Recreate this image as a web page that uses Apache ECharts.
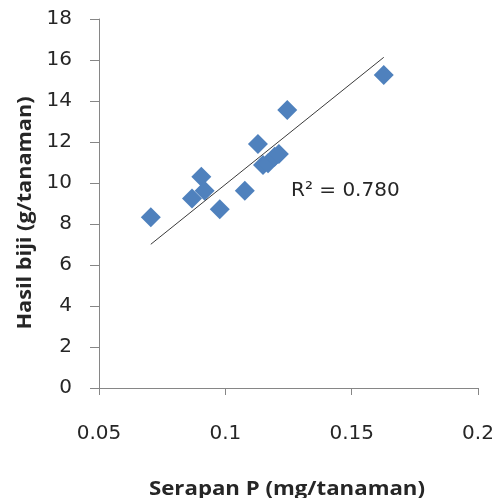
<!DOCTYPE html>
<html>
<head>
<meta charset="utf-8">
<script src="https://cdn.jsdelivr.net/npm/echarts@6/dist/echarts.min.js"></script>
<style>
  html, body { margin: 0; padding: 0; background: #fff; }
  #chart { width: 497px; height: 498px; }
</style>
</head>
<body>
<div id="chart"></div>
<script>
// Serapan P (mg/tanaman) vs Hasil biji (g/tanaman)
const serapanP = [0.0705, 0.0868, 0.0905, 0.0918, 0.0978, 0.1077, 0.1129, 0.1149, 0.1169, 0.1195, 0.1212, 0.1245, 0.1627];
const hasilBiji = [8.33, 9.25, 10.31, 9.62, 8.72, 9.62, 11.90, 10.88, 10.96, 11.28, 11.41, 13.56, 15.27];
// linear trend line end points
const trendX = [0.0705, 0.1627];
const trendY = [7.01, 16.13];
const xTicks = [0.05, 0.1, 0.15, 0.2];
const yTicks = [0, 2, 4, 6, 8, 10, 12, 14, 16, 18];
const r2Text = 'R² = 0.780';
const xTitle = 'Serapan P (mg/tanaman)';
const yTitle = 'Hasil biji (g/tanaman)';

const labelFont = '"DejaVu Sans", sans-serif';
const titleFont = '"Open Sans", sans-serif';
const axisColor = '#868686';
const textColor = '#262626';

// stretch a bold title horizontally to a given span
function stretchFor(text, size, span) {
  const ctx = document.createElement('canvas').getContext('2d');
  ctx.font = 'bold ' + size + 'px ' + titleFont;
  return span / ctx.measureText(text).width;
}

const chart = echarts.init(document.getElementById('chart'));
chart.setOption({
  animation: false,
  grid: { left: 99, right: 19, top: 19, bottom: 110, containLabel: false },
  xAxis: {
    type: 'value',
    min: xTicks[0], max: xTicks[xTicks.length - 1], interval: 0.05,
    axisLine: { show: true, lineStyle: { color: axisColor, width: 1 } },
    axisTick: { show: true, length: 7, lineStyle: { color: axisColor } },
    axisLabel: { fontFamily: labelFont, fontSize: 20, color: textColor, margin: 36,
      formatter: v => String(+v.toFixed(2)) },
    splitLine: { show: false }
  },
  yAxis: {
    type: 'value',
    min: yTicks[0], max: yTicks[yTicks.length - 1], interval: 2,
    axisLine: { show: true, lineStyle: { color: axisColor, width: 1 } },
    axisTick: { show: true, length: 9, lineStyle: { color: axisColor } },
    axisLabel: { fontFamily: labelFont, fontSize: 20, color: textColor, margin: 27 },
    splitLine: { show: false }
  },
  series: [
    {
      type: 'line',
      data: trendX.map((x, i) => [x, trendY[i]]),
      symbol: 'none',
      lineStyle: { color: '#3a3a3a', width: 1 },
      z: 3
    },
    {
      type: 'scatter',
      data: serapanP.map((x, i) => [x, hasilBiji[i]]),
      symbol: 'diamond',
      symbolSize: 20,
      itemStyle: { color: '#4F81BD', opacity: 1 },
      z: 2
    }
  ],
  graphic: [
    {
      type: 'text',
      left: 291, top: 181,
      style: { text: r2Text, fontFamily: labelFont, fontSize: 20, fill: textColor }
    },
    {
      type: 'text',
      x: 287, y: 489, scaleX: stretchFor(xTitle, 20, 276),
      style: {
        text: xTitle, fontFamily: titleFont, fontSize: 20, fontWeight: 'bold',
        fill: textColor, align: 'center', verticalAlign: 'middle'
      }
    },
    {
      type: 'text',
      x: 25, y: 213, rotation: Math.PI / 2, scaleX: stretchFor(yTitle, 20, 233),
      style: {
        text: yTitle, fontFamily: titleFont, fontSize: 20, fontWeight: 'bold',
        fill: textColor, align: 'center', verticalAlign: 'middle'
      }
    }
  ]
});
</script>
</body>
</html>
